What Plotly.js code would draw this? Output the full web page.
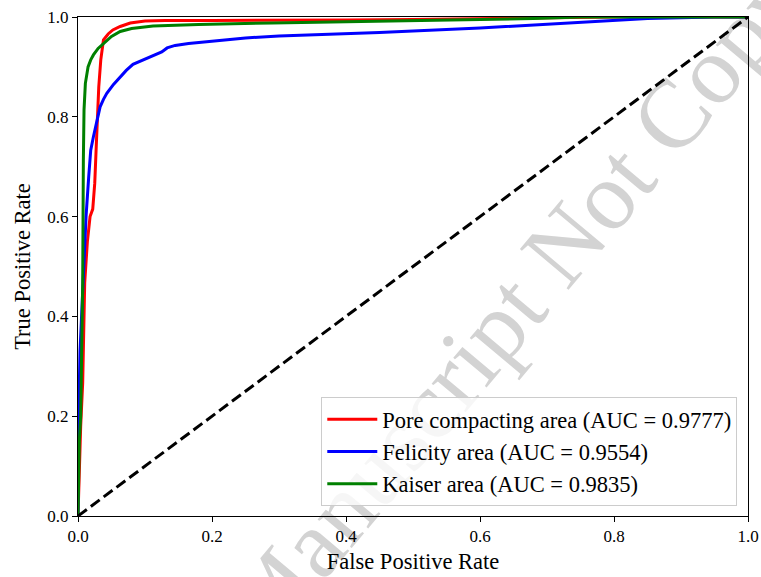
<!DOCTYPE html>
<html>
<head>
<meta charset="utf-8">
<script src="https://cdn.plot.ly/plotly-3.0.1.min.js"></script>
<style>html,body{margin:0;padding:0;background:#fff;}#chart{width:761px;height:577px;}</style>
</head>
<body>
<div id="chart"></div>
<script>
// Pore compacting area
var poreFpr = [0, 0.002, 0.004, 0.007, 0.010, 0.014, 0.018, 0.022, 0.025, 0.027, 0.029, 0.031, 0.034, 0.038, 0.045, 0.052, 0.063, 0.078, 0.1, 0.13, 0.2, 0.3, 0.4, 0.5, 0.6, 0.7, 0.8, 1.0];
var poreTpr = [0, 0.1, 0.18, 0.267, 0.467, 0.55, 0.6, 0.615, 0.667, 0.733, 0.8, 0.86, 0.914, 0.954, 0.966, 0.974, 0.981, 0.988, 0.992, 0.993, 0.993, 0.993, 0.994, 0.995, 0.997, 0.999, 1.0, 1.0];
// Felicity area
var felFpr = [0, 0.001, 0.003, 0.0055, 0.008, 0.012, 0.016, 0.019, 0.023, 0.028, 0.033, 0.038, 0.043, 0.053, 0.063, 0.072, 0.082, 0.1, 0.115, 0.125, 0.133, 0.145, 0.165, 0.187, 0.25, 0.3, 0.45, 0.6, 0.7, 0.75, 0.85, 0.95, 1.0];
var felTpr = [0, 0.2, 0.33, 0.4, 0.467, 0.6, 0.68, 0.733, 0.76, 0.79, 0.82, 0.835, 0.847, 0.865, 0.88, 0.893, 0.905, 0.915, 0.923, 0.93, 0.938, 0.943, 0.947, 0.95, 0.958, 0.962, 0.969, 0.978, 0.986, 0.99, 0.997, 1.0, 1.0];
// Kaiser area
var kaiFpr = [0, 0.001, 0.002, 0.004, 0.006, 0.007, 0.008, 0.009, 0.011, 0.015, 0.019, 0.023, 0.03, 0.038, 0.05, 0.063, 0.08, 0.112, 0.18, 0.29, 0.43, 0.55, 0.68, 0.75, 1.0];
var kaiTpr = [0, 0.08, 0.15, 0.2, 0.35, 0.467, 0.713, 0.814, 0.867, 0.9, 0.914, 0.924, 0.937, 0.947, 0.961, 0.971, 0.977, 0.982, 0.985, 0.988, 0.991, 0.994, 0.997, 1.0, 1.0];
// chance line
var chanceX = [0, 1];
var chanceY = [0, 1];

var seriesNames = ['Pore compacting area (AUC = 0.9777)', 'Felicity area (AUC = 0.9554)', 'Kaiser area (AUC = 0.9835)'];
var tickVals = [0, 0.2, 0.4, 0.6, 0.8, 1.0];
var tickText = ['0.0', '0.2', '0.4', '0.6', '0.8', '1.0'];
var watermarkText = 'Manuscript Not Copyedited';

var fontFam = '"Liberation Serif", "Times New Roman", serif';

var traces = [
  {x: poreFpr, y: poreTpr, name: seriesNames[0], mode: 'lines', line: {color: '#ff0000', width: 3}},
  {x: felFpr, y: felTpr, name: seriesNames[1], mode: 'lines', line: {color: '#0000ff', width: 3}},
  {x: kaiFpr, y: kaiTpr, name: seriesNames[2], mode: 'lines', line: {color: '#008000', width: 3}},
  {x: chanceX, y: chanceY, mode: 'lines', showlegend: false, line: {color: '#000000', width: 3, dash: '11px,5px'}}
];

var axisCommon = {
  range: [0, 1],
  tickvals: tickVals,
  ticktext: tickText,
  ticks: 'outside',
  ticklen: 5,
  tickwidth: 1,
  tickcolor: '#000',
  showline: true,
  linecolor: '#000',
  linewidth: 1,
  mirror: true,
  showgrid: false,
  zeroline: false,
  tickfont: {family: fontFam, size: 17, color: '#000'}
};

var layout = {
  width: 761,
  height: 577,
  margin: {l: 78, r: 13, t: 17, b: 61},
  paper_bgcolor: '#ffffff',
  plot_bgcolor: 'rgba(0,0,0,0)',
  showlegend: true,
  xaxis: Object.assign({}, axisCommon, {title: {text: 'False Positive Rate', font: {family: fontFam, size: 22.5, color: '#000'}, standoff: 7}}),
  yaxis: Object.assign({}, axisCommon, {title: {text: 'True Positive Rate', font: {family: fontFam, size: 22.5, color: '#000'}, standoff: 10}}),
  legend: {
    x: 0.984, y: 0.02, xanchor: 'right', yanchor: 'bottom',
    bgcolor: 'rgba(255,255,255,0.8)',
    bordercolor: '#cccccc', borderwidth: 1,
    itemwidth: 50,
    font: {family: fontFam, size: 22.5, color: '#000'}
  },
  shapes: [{
    type: 'rect', layer: 'below',
    xref: 'paper', yref: 'paper',
    x0: 0.702, x1: 0.802, y0: 0.571, y1: 0.671,
    line: {width: 0}, fillcolor: 'rgba(0,0,0,0)',
    label: {
      text: watermarkText,
      textposition: 'middle center',
      textangle: -50,
      font: {family: fontFam, size: 97, color: '#d3d3d3'}
    }
  }]
};

Plotly.newPlot('chart', traces, layout, {displayModeBar: false, staticPlot: true});
</script>
</body>
</html>
